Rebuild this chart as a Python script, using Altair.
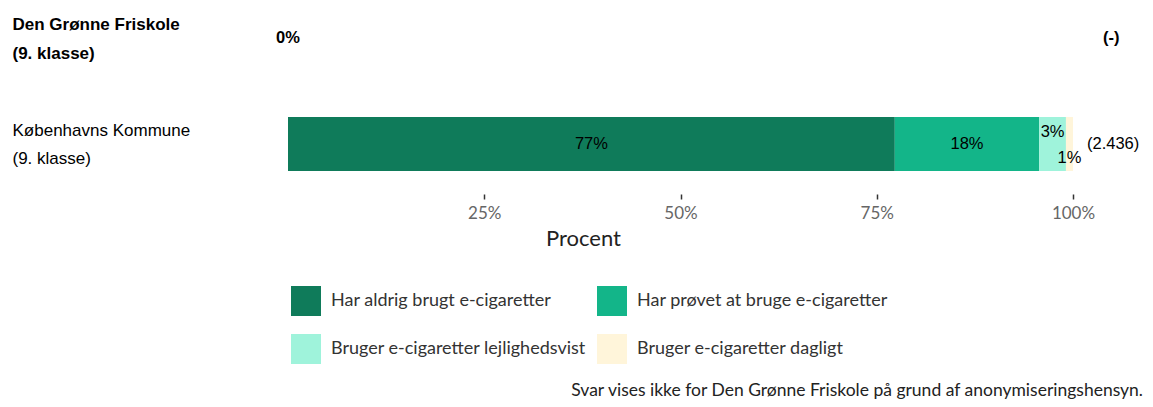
import altair as alt
import pandas as pd

rows = ["Den Grønne Friskole|(9. klasse)", "Københavns Kommune|(9. klasse)"]
categories = [
    "Har aldrig brugt e-cigaretter",
    "Har prøvet at bruge e-cigaretter",
    "Bruger e-cigaretter lejlighedsvist",
    "Bruger e-cigaretter dagligt",
]
colors = ["#0F7B5A", "#13B589", "#9FF3DB", "#FFF5DA"]
kk_values = [77.3, 18.4, 3.4, 0.9]
kk_labels = ["77%", "18%", "3%", "1%"]
n_labels = ["(-)", "(2.436)"]
friskole_pct_label = "0%"
x_ticks = [25, 50, 75, 100]
footnote = "Svar vises ikke for Den Grønne Friskole på grund af anonymiseringshensyn."

# build table
starts, ends = [], []
acc = 0.0
for v in kk_values:
    starts.append(acc)
    acc += v
    ends.append(acc)
bars = pd.DataFrame({
    "row": [rows[1]] * len(categories),
    "cat": categories,
    "idx": list(range(len(categories))),
    "start": starts,
    "end": ends,
    "mid": [(s + e) / 2 for s, e in zip(starts, ends)],
    "label": kk_labels,
    "value": kk_values,
})
big = bars[bars["value"] >= 5]
small_a = bars[(bars["value"] < 5) & (bars["idx"] == 2)]
small_b = bars[(bars["value"] < 5) & (bars["idx"] == 3)]

nlab = pd.DataFrame({"row": rows, "n": n_labels, "x": [100, 100]})
fris = pd.DataFrame({"row": [rows[0]], "t": [friskole_pct_label], "x": [0]})
foot = pd.DataFrame({"t": [footnote]})

yenc = alt.Y(
    "row:N",
    sort=rows,
    scale=alt.Scale(domain=rows, paddingInner=0.49, paddingOuter=0),
    axis=alt.Axis(
        title=None, domain=False, ticks=False, labelAlign="left", labelPadding=276,
        labelFont="Liberation Sans", labelFontSize=17, labelColor="#000",
        labelLineHeight=28.5, labelBaseline="middle", labelOffset=-13,
        labelExpr="split(datum.label, '|')",
        labelFontWeight={"condition": {"test": "indexof(datum.value, 'Friskole') >= 0", "value": "bold"}, "value": "normal"},
        labelLimit=300,
    ),
)
xscale = alt.Scale(domain=[0, 100], nice=False)

bar = alt.Chart(bars).mark_bar(cornerRadius=0).encode(
    x=alt.X("start:Q", scale=xscale, axis=alt.Axis(
        values=x_ticks, labelExpr="datum.value + '%'", domain=False, grid=False,
        tickSize=5, tickColor="#333", tickWidth=1.5, offset=23, labelFlush=False,
        labelFont="Lato", labelFontSize=17, labelColor="#666", labelPadding=6,
        title="Procent", titleFont="Lato", titleFontSize=22, titleFontWeight="normal",
        titleColor="#222", titleX=295, titleY=44, titleBaseline="middle", titleAlign="center",
    )),
    x2="end:Q",
    y=yenc,
    color=alt.Color("cat:N", sort=categories, scale=alt.Scale(domain=categories, range=colors),
                    legend=alt.Legend(
                        title=None, orient="none", legendX=3, legendY=275, columns=2,
                        direction="horizontal",
                        symbolType="square", symbolSize=900, symbolStrokeWidth=0,
                        labelFont="Lato", labelFontSize=18, labelColor="#333",
                        labelOffset=10, rowPadding=18, columnPadding=11, labelLimit=400,
                    )),
    order="idx:Q",
)

txt_kw = dict(font="Liberation Sans", fontSize=16.5, color="#000", baseline="middle")
big_t = alt.Chart(big).mark_text(**txt_kw).encode(x=alt.X("mid:Q", scale=xscale), y=alt.Y("row:N", sort=rows), text="label:N")
sa_t = alt.Chart(small_a).mark_text(dy=-12, **txt_kw).encode(x=alt.X("mid:Q", scale=xscale), y=alt.Y("row:N", sort=rows), text="label:N")
sb_t = alt.Chart(small_b).mark_text(dy=14, **txt_kw).encode(x=alt.X("mid:Q", scale=xscale), y=alt.Y("row:N", sort=rows), text="label:N")

n_kk = alt.Chart(nlab[nlab["row"] == rows[1]]).mark_text(align="left", dx=14, **txt_kw).encode(
    x=alt.X("x:Q", scale=xscale), y=alt.Y("row:N", sort=rows), text="n:N")
n_fr = alt.Chart(nlab[nlab["row"] == rows[0]]).mark_text(align="left", dx=30, fontWeight="bold", **txt_kw).encode(
    x=alt.X("x:Q", scale=xscale), y=alt.Y("row:N", sort=rows), text="n:N")
fr_t = alt.Chart(fris).mark_text(align="center", fontWeight="bold", **txt_kw).encode(
    x=alt.X("x:Q", scale=xscale), y=alt.Y("row:N", sort=rows), text="t:N")

foot_t = alt.Chart(foot).mark_text(align="right", baseline="middle", font="Lato", fontSize=17.5, color="#222").encode(
    x=alt.value(855), y=alt.value(380), text="t:N")

chart = alt.layer(bar, big_t, sa_t, sb_t, n_kk, n_fr, fr_t, foot_t).properties(
    width=785, height=160,
    autosize=alt.AutoSizeParams(type="none"),
    padding={"left": 280, "top": 3, "right": 72, "bottom": 236},
).configure_view(strokeWidth=0)

chart.save("out.html", embed_options={"renderer": "svg", "actions": False})
